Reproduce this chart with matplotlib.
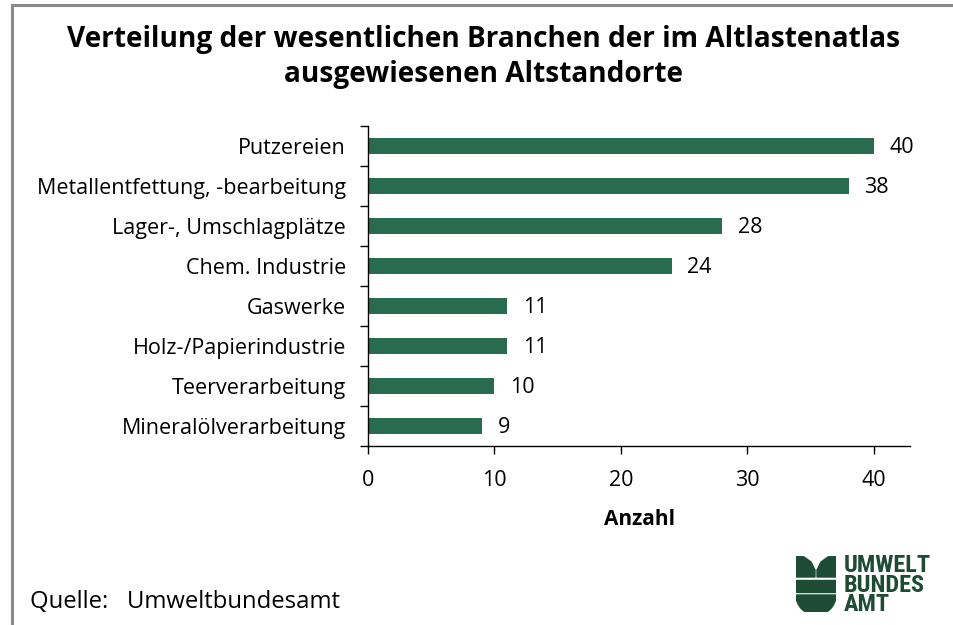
import matplotlib
matplotlib.use('Agg')
import matplotlib.pyplot as plt
from matplotlib.patches import Polygon, Rectangle, Wedge
from matplotlib.lines import Line2D
import numpy as np

branchen = ['Putzereien', 'Metallentfettung, -bearbeitung', 'Lager-, Umschlagplätze',
            'Chem. Industrie', 'Gaswerke', 'Holz-/Papierindustrie',
            'Teerverarbeitung', 'Mineralölverarbeitung']
anzahl = [40, 38, 28, 24, 11, 11, 10, 9]
xticks = [0, 10, 20, 30, 40]

plt.rcParams['font.family'] = ['Open Sans', 'DejaVu Sans']
green = '#286b4e'
dark = '#1d4b33'

fig = plt.figure(figsize=(9.54, 6.25), dpi=100)
W, H = 954, 625

# gray frame (left + top)
fig.add_artist(Line2D([12 / W, 12 / W], [0, 1 - 5 / H], color='#8a8a8a', lw=2.2, transform=fig.transFigure))
fig.add_artist(Line2D([12 / W, 1], [1 - 5 / H, 1 - 5 / H], color='#8a8a8a', lw=2.2, transform=fig.transFigure))

fig.text(484 / W, 1 - 57 / H, 'Verteilung der wesentlichen Branchen der im Altlastenatlas\nausgewiesenen Altstandorte',
         ha='center', va='center', fontsize=20.2, fontweight='bold', linespacing=1.25)

ax = fig.add_axes([368 / W, 1 - 446 / H, (910 - 368) / W, (446 - 126) / H])
y = np.arange(len(branchen))
ax.barh(y, anzahl, height=0.4, color=green)
ax.set_ylim(len(branchen) - 0.5, -0.5)
ax.set_xlim(0, 42.85)
for yi, v in zip(y, anzahl):
    ax.text(v + 1.25, yi + 0.04, str(v), va='center', ha='left', fontsize=15.5)

ax.set_yticks(y)
ax.set_yticklabels(branchen, fontsize=15.5)
ax.set_yticks(np.arange(len(branchen) + 1) - 0.5, minor=True)
ax.tick_params(axis='y', which='major', length=0, pad=16)
ax.tick_params(axis='y', which='minor', length=6, width=1)
ax.set_xticks(xticks)
ax.set_xticklabels([str(t) for t in xticks], fontsize=15.5)
ax.tick_params(axis='x', length=6, width=1, pad=11.5)
ax.set_xlabel('Anzahl', fontsize=15, fontweight='bold', labelpad=13)
for s in ['top', 'right']:
    ax.spines[s].set_visible(False)
for s in ['left', 'bottom']:
    ax.spines[s].set_linewidth(1)

fig.text(30 / W, 1 - 602 / H, 'Quelle:   Umweltbundesamt', fontsize=17.2, va='center', ha='left')

# logo
lax = fig.add_axes([796 / W, 1 - 612 / H, 40 / W, 56 / H])
lax.set_xlim(0, 40)
lax.set_ylim(0, 56)
lax.axis('off')
lax.add_patch(Wedge((20, 17), 20, 180, 360, color=dark))
lax.add_patch(Rectangle((0, 20), 40, 12, color=dark))
lax.add_patch(Polygon([[0, 56], [8, 55], [15, 50], [19, 42], [19, 35], [0, 35]], color=dark))
lax.add_patch(Polygon([[40, 56], [32, 55], [25, 50], [21, 42], [21, 35], [40, 35]], color=dark))
fig.text(844 / W, 1 - 585 / H, 'UMWELT\nBUNDES\nAMT', fontsize=17.5, fontweight='bold', color=dark,
         va='center', ha='left', linespacing=0.8, family=['Roboto Condensed', 'Roboto', 'DejaVu Sans'])

fig.savefig('out.png', dpi=100)
